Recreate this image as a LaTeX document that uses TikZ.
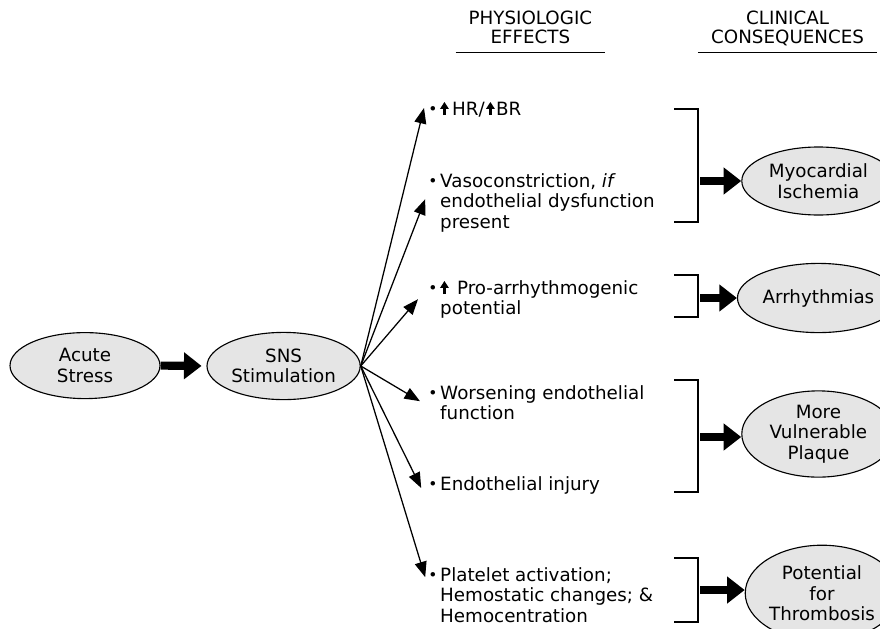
\documentclass[tikz,border=0pt]{standalone}
\usepackage{fontspec}
\setmainfont{DejaVu Sans}
\usepackage{xcolor}
\usepackage{tikz}
\usetikzlibrary{shapes.geometric, arrows.meta, positioning}

\newcommand{\bul}{\makebox[8.5pt][l]{\raisebox{0.6pt}{\fontsize{11}{11}\selectfont\textbullet}}}
\newcommand{\uparr}{\tikz[baseline=0pt]\draw[line width=2pt,-{Triangle[length=5pt,width=6pt]}] (0,0) -- (0,9.3pt);}

\begin{document}
\begin{tikzpicture}[
    stage/.style={ellipse, draw, fill=gray!20, line width=0.8pt, minimum width=3.83cm, minimum height=1.7cm, inner sep=1pt, align=center, font=\fontsize{13}{14.6}\selectfont},
    effect/.style={anchor=base west, inner sep=0pt, font=\fontsize{13}{14.6}\selectfont},
    head/.style={align=center, inner xsep=0pt, inner ysep=5.8pt, text depth=0pt, anchor=south, font=\fontsize{13}{13.5}\selectfont},
    fan/.style={line width=0.9pt, -{Triangle[length=11pt, width=8.5pt]}},
    bigarrow/.style={line width=5.8pt, -{Triangle[length=12.5pt, width=18.5pt]}},
    bracket/.style={line width=0.9pt}
]
\useasboundingbox (0,0) rectangle (22,-15.7);
\clip (0,0) rectangle (22,-15.7);

% Headings
\node[head, minimum width=3.725cm] (phys) at (13.26,-1.3) {PHYSIOLOGIC\\EFFECTS};
\node[head, minimum width=4.475cm] (clin) at (19.69,-1.3) {CLINICAL\\CONSEQUENCES};
\draw[line width=0.7pt] (phys.south west) -- (phys.south east);
\draw[line width=0.7pt] (clin.south west) -- (clin.south east);

% Cause
\node[stage, minimum width=3.75cm, minimum height=1.65cm] (acute) at (2.125,-9.14) {Acute\\Stress};
\node[stage, minimum height=1.68cm] (sns) at (7.09,-9.15) {SNS\\Stimulation};
\draw[bigarrow, shorten >=3.5pt] (acute.east) -- (sns.west);

% Physiologic effects
\node[effect] (hr) at (10.7,-2.875) {\bul\uparr\hspace{2.5pt}HR/\hspace{1pt}\uparr\hspace{1pt}BR};
\node[effect] (vaso) at (10.7,-4.675) {\bul\begin{tabular}[t]{@{}l@{}}Vasoconstriction, \textit{if}\\endothelial dysfunction\\present\end{tabular}};
\node[effect] (pro) at (10.7,-7.35) {\bul\begin{tabular}[t]{@{}l@{}}\uparr\hspace{6pt}Pro-arrhythmogenic\\potential\end{tabular}};
\node[effect] (wors) at (10.7,-9.975) {\bul\begin{tabular}[t]{@{}l@{}}Worsening endothelial\\function\end{tabular}};
\node[effect] (inj) at (10.7,-12.25) {\bul Endothelial injury};
\node[effect] (plt) at (10.7,-14.525) {\bul\begin{tabular}[t]{@{}l@{}}Platelet activation;\\Hemostatic changes; \&\\Hemocentration\end{tabular}};

% Arrow ends
\coordinate (t1) at (10.6,-2.7);
\coordinate (t2) at (10.63,-4.98);
\coordinate (t3) at (10.45,-7.48);
\coordinate (t4) at (10.5,-10.03);
\coordinate (t5) at (10.53,-12.2);
\coordinate (t6) at (10.63,-14.43);

\draw[fan] (sns.east) -- (t1);
\draw[fan] (sns.east) -- (t2);
\draw[fan] (sns.east) -- (t3);
\draw[fan] (sns.east) -- (t4);
\draw[fan] (sns.east) -- (t5);
\draw[fan] (sns.east) -- (t6);

% Brackets
\draw[bracket] (16.85,-2.725) -- (17.45,-2.725) -- (17.45,-5.55) -- (16.85,-5.55);
\draw[bracket] (16.85,-6.875) -- (17.45,-6.875) -- (17.45,-7.925) -- (16.85,-7.925);
\draw[bracket] (16.85,-9.5) -- (17.45,-9.5) -- (17.45,-12.3) -- (16.85,-12.3);
\draw[bracket] (16.85,-13.95) -- (17.45,-13.95) -- (17.45,-15.55) -- (16.85,-15.55);

% Clinical consequences
\node[stage] (myo) at (20.46,-4.525) {Myocardial\\Ischemia};
\node[stage, minimum height=1.73cm] (arr) at (20.46,-7.45) {Arrhythmias};
\node[stage, minimum height=2.08cm] (plq) at (20.46,-10.85) {More\\Vulnerable\\Plaque};
\node[stage, minimum height=2.4cm] (thr) at (20.55,-14.83) {Potential\\for\\Thrombosis};

\coordinate (b1) at (17.5,-4.525);
\coordinate (b2) at (17.5,-7.45);
\coordinate (b3) at (17.5,-10.925);
\coordinate (b4) at (17.5,-14.75);

\draw[bigarrow] (b1) -- (b1 -| myo.west);
\draw[bigarrow] (b2) -- (b2 -| arr.west);
\draw[bigarrow] (b3) -- (b3 -| plq.west);
\draw[bigarrow] (b4) -- (b4 -| thr.west);

\end{tikzpicture}
\end{document}
